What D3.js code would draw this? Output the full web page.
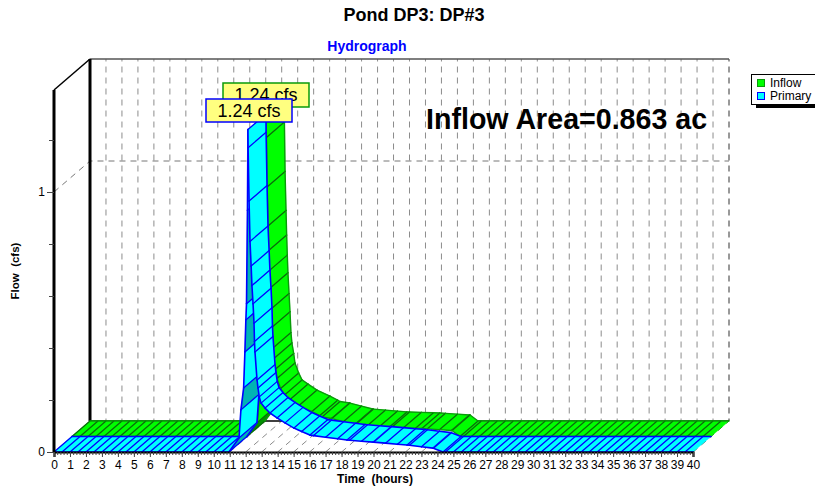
<!DOCTYPE html>
<html>
<head>
<meta charset="utf-8">
<script src="https://cdnjs.cloudflare.com/ajax/libs/d3/7.8.5/d3.min.js"></script>
<style>
  body { margin: 0; background: #fff; }
  text { font-family: "Liberation Sans", Arial, sans-serif; fill: #000; }
  .axis path { stroke: #000; }
  .axis line { stroke: #444; }
  .axis text { font-size: 12px; font-family: "Liberation Sans", Arial, sans-serif; }
</style>
</head>
<body>
<svg id="chart" width="815" height="490"></svg>
<script>
'use strict';

// values
const primaryHours = [0, 10.95, 11.58, 11.7, 11.87, 11.95, 12.01, 12.05, 12.11, 12.14, 12.15, 12.21, 12.27, 12.34, 12.39, 12.46, 12.52, 12.55, 12.58, 12.71, 12.77, 12.85, 12.96, 13.21, 13.52, 13.96, 14.46, 15.02, 16.02, 18.34, 19.97, 22.1, 23.72, 24.35, 40];
const primaryFlow = [0, 0, 0.054, 0.162, 0.246, 0.385, 0.508, 0.57, 0.93, 1.24, 1.17, 0.965, 0.81, 0.715, 0.64, 0.57, 0.495, 0.425, 0.385, 0.277, 0.246, 0.212, 0.188, 0.169, 0.15, 0.131, 0.112, 0.092, 0.065, 0.046, 0.038, 0.027, 0.015, 0, 0];
const inflowHours = [0, 10.95, 11.6, 11.75, 11.92, 12.0, 12.06, 12.1, 12.13, 12.14, 12.17, 12.21, 12.27, 12.31, 12.35, 12.39, 12.46, 12.52, 12.58, 12.64, 12.75, 12.83, 13.06, 13.27, 13.65, 14.21, 15.02, 15.65, 16.27, 17.7, 19.84, 21.9, 23.79, 24.29, 40];
const inflowFlow = [0, 0, 0.054, 0.162, 0.246, 0.385, 0.508, 0.57, 0.93, 1.24, 1.15, 0.96, 0.81, 0.715, 0.638, 0.57, 0.49, 0.42, 0.34, 0.3, 0.26, 0.223, 0.185, 0.158, 0.142, 0.119, 0.096, 0.075, 0.069, 0.046, 0.035, 0.031, 0.023, 0, 0];
const hourTicks = d3.range(0, 41);
const flowTicks = [0, 1];
const flowMinorTicks = [0.2, 0.4, 0.6, 0.8, 1.2];
const seriesNames = ['Inflow', 'Primary'];
const peakLabels = ['1.24 cfs', '1.24 cfs'];

const svg = d3.select('#chart');

let x = d3.scaleLinear().domain([0, 40]).range([54, 693]);
let y = d3.scaleLinear().domain([0, 1]).range([452, 192]);
// depth: 0 front of the floor, 1 middle, 2 back wall
let depthX = d3.scaleLinear().domain([0, 2]).range([0, 36]);
let depthY = d3.scaleLinear().domain([0, 2]).range([0, -31]);
const yTop = y.invert(90);

function px(h, f, d) { return [x(h) + depthX(d), y(f) + depthY(d)]; }

// back wall and floor grid
let grid = svg.append('g').attr('fill', 'none');
hourTicks.slice(1).forEach(h => {
    let floorFront = px(h, 0, 0), wallBottom = px(h, 0, 2), wallTop = px(h, yTop, 2);
    grid.append('path').attr('d', d3.line()([floorFront, wallBottom, wallTop]))
        .attr('stroke', h === 40 ? '#333' : '#8c8c8c')
        .attr('stroke-dasharray', '6,5');
});
grid.append('path').attr('d', d3.line()([px(0, 1, 0), px(0, 1, 2), px(40, 1, 2)]))
    .attr('stroke', '#777').attr('stroke-dasharray', '6,5');
grid.append('path').attr('d', d3.line()([px(0, 0, 2), px(40, 0, 2)])).attr('stroke', '#000').attr('stroke-width', 1.5);
grid.append('path').attr('d', d3.line()([px(0, yTop, 2), px(40, yTop, 2)])).attr('stroke', '#555').attr('stroke-width', 1.5);
grid.append('path').attr('d', d3.line()([px(0, 0, 2), px(0, yTop, 2)])).attr('stroke', '#000').attr('stroke-width', 3);
grid.append('path').attr('d', d3.line()([px(0, yTop, 0), px(0, yTop, 2)])).attr('stroke', '#000').attr('stroke-width', 1.5);

function drawRibbon(hours, flows, d0, d1, style) {
    let flowAt = d3.scaleLinear().domain(hours).range(flows);
    // hatch positions away from the peak, where the samples themselves are the hatch
    let flatHatch = d3.range(0, hours[1], 0.5)
        .concat(d3.range(15.5, 24, 0.75))
        .concat(d3.range(24.5, 40, 0.5));
    let steps = Array.from(new Set(hours.concat(flatHatch))).sort(d3.ascending);
    let g = svg.append('g').attr('fill', 'none').attr('stroke-linejoin', 'round').attr('stroke-linecap', 'round');
    let line = d3.line();
    let riseCount = 0;
    for (let i = 0; i < steps.length - 1; i++) {
        let a = steps[i], b = steps[i + 1];
        let fa = flowAt(a), fb = flowAt(b);
        let rising = fb > fa;
        let fill = style.fill;
        if (rising) {
            if (riseCount % 2 === 0) fill = style.dark;
            riseCount++;
        }
        let quad = [px(a, fa, d0), px(b, fb, d0), px(b, fb, d1), px(a, fa, d1)];
        g.append('polygon').attr('points', quad.join(' ')).attr('fill', fill).attr('stroke', fill).attr('stroke-width', 0.4);
        // the start edge goes on after the fill so the next facet doesn't cover it
        g.append('path').attr('d', line([quad[0], quad[3]])).attr('stroke', style.hatch).attr('stroke-width', 1.3);
        g.append('path').attr('d', line([quad[0], quad[1]])).attr('stroke', style.edge).attr('stroke-width', style.edgeWidth);
        g.append('path').attr('d', line([quad[2], quad[3]])).attr('stroke', style.edge).attr('stroke-width', style.edgeWidth);
    }
}

drawRibbon(inflowHours, inflowFlow, 1, 2, { fill: '#00ff00', dark: '#009400', edge: '#0a9a0a', edgeWidth: 1.4, hatch: '#0b6b0b' });
drawRibbon(primaryHours, primaryFlow, 0, 1, { fill: '#00ffff', dark: '#00b4b4', edge: '#0000ff', edgeWidth: 1.6, hatch: '#0000ff' });

// axes
let xAxis = svg.append('g').attr('class', 'axis').attr('transform', 'translate(0,452)')
    .call(d3.axisBottom(x).tickValues(hourTicks).tickFormat(d3.format('d')).tickSize(5).tickPadding(3));
xAxis.select('.domain').attr('stroke-width', 2.2);
svg.append('g').attr('class', 'axis').attr('transform', 'translate(0,452)')
    .call(d3.axisBottom(x).tickValues(d3.range(0, 40.01, 0.2)).tickFormat('').tickSize(3))
    .select('.domain').remove();

let yAxis = svg.append('g').attr('class', 'axis').attr('transform', 'translate(54,0)')
    .call(d3.axisLeft(y).tickValues(flowTicks).tickFormat(d3.format('d')).tickSize(7).tickPadding(2));
yAxis.select('.domain').attr('d', d3.line()([[0, y(0)], [0, y(yTop)]])).attr('stroke-width', 3);
svg.append('g').attr('class', 'axis').attr('transform', 'translate(54,0)')
    .call(d3.axisLeft(y).tickValues(flowMinorTicks).tickFormat('').tickSize(5))
    .select('.domain').remove();

// titles
svg.append('text').attr('x', 414).attr('y', 21).attr('text-anchor', 'middle')
    .attr('font-size', 18).attr('font-weight', 'bold').text('Pond DP3: DP#3');
svg.append('text').attr('x', 367).attr('y', 51).attr('text-anchor', 'middle')
    .attr('font-size', 14).attr('font-weight', 'bold').style('fill', '#0000ff').text('Hydrograph');
svg.append('text').attr('x', 375).attr('y', 483).attr('text-anchor', 'middle')
    .attr('font-size', 12).attr('font-weight', 'bold').attr('xml:space', 'preserve').text('Time  (hours)');
svg.append('text').attr('transform', 'translate(19,271) rotate(-90)').attr('text-anchor', 'middle')
    .attr('font-size', 11.5).attr('font-weight', 'bold').attr('xml:space', 'preserve').text('Flow  (cfs)');
svg.append('text').attr('x', 426).attr('y', 129)
    .attr('font-size', 28.6).attr('font-weight', 'bold').text('Inflow Area=0.863 ac');

// peak labels
const labelBoxes = [[223, 83, 86, 24, '#0a9a0a'], [206, 99, 86, 23, '#0000ff']];
peakLabels.forEach((t, i) => {
    let b = labelBoxes[i];
    svg.append('rect').attr('x', b[0]).attr('y', b[1]).attr('width', b[2]).attr('height', b[3])
        .attr('fill', '#ffff80').attr('stroke', b[4]).attr('stroke-width', 1.5);
    svg.append('text').attr('x', b[0] + b[2] / 2).attr('y', b[1] + 18).attr('text-anchor', 'middle')
        .attr('font-size', 18).text(t);
});

// legend
svg.append('rect').attr('x', 756).attr('y', 104).attr('width', 59).attr('height', 4).attr('fill', '#000');
svg.append('rect').attr('x', 751.5).attr('y', 74.5).attr('width', 70).attr('height', 30)
    .attr('fill', '#fff').attr('stroke', '#000');
const legendColors = ['#00ff00', '#00ffff'];
const legendEdges = ['#0a9a0a', '#0000ff'];
seriesNames.forEach((name, i) => {
    svg.append('rect').attr('x', 757.5).attr('y', 79.5 + i * 13).attr('width', 7).attr('height', 7)
        .attr('fill', legendColors[i]).attr('stroke', legendEdges[i]);
    svg.append('text').attr('x', 770).attr('y', 87 + i * 13).attr('font-size', 12).text(name);
});
</script>
</body>
</html>
